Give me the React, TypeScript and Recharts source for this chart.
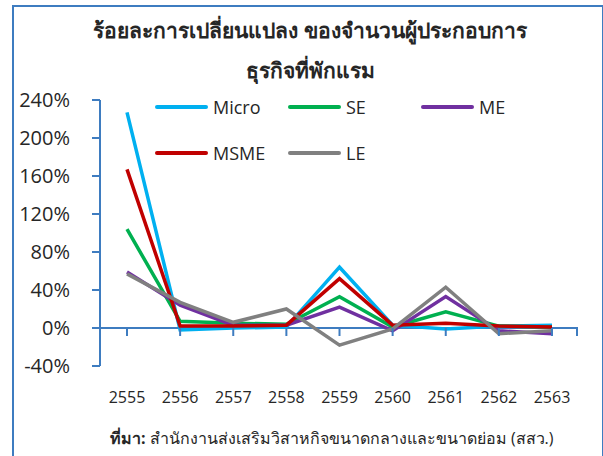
import { LineChart, Line, XAxis, YAxis, ReferenceLine } from "recharts";

const years = ["2555", "2556", "2557", "2558", "2559", "2560", "2561", "2562", "2563"];
const micro = [227, -2, 0, 1, 64, 3, -1, 2, 3];
const se = [104, 7, 5, 4, 33, 1, 17, 2, 1];
const me = [59, 24, 3, 3, 22, -3, 33, -3, -6];
const msme = [167, 2, 2, 3, 52, 3, 5, 2, 1];
const le = [57, 27, 6, 20, -18, -1, 43, -6, -3];
const yTicks = [-40, 0, 40, 80, 120, 160, 200, 240];

const series = [
  { key: "micro", name: "Micro", color: "#00B0F0", values: micro },
  { key: "se", name: "SE", color: "#00B050", values: se },
  { key: "me", name: "ME", color: "#7030A0", values: me },
  { key: "msme", name: "MSME", color: "#C00000", values: msme },
  { key: "le", name: "LE", color: "#808080", values: le },
];

const data = years.map((y, i) => {
  const row: any = { year: y };
  series.forEach((s) => (row[s.key] = s.values[i]));
  return row;
});

const AXIS = "#3E7CC0";
const TEXT = "#262626";
const FONT = "'Segoe UI', 'Open Sans', 'Noto Sans', sans-serif";

const W = 603;
const H = 456;
const X_AXIS_H = 60;
const M = { top: 100, right: 26, bottom: 30, left: 12 };
const Y_MIN = -40;
const Y_MAX = 240;
const PLOT_BOTTOM = H - M.bottom - X_AXIS_H;
const PLOT_H = PLOT_BOTTOM - M.top;
// pixel y of the 0% line, from the y domain
const ZERO_Y = M.top + (PLOT_H * Y_MAX) / (Y_MAX - Y_MIN);

function XTick({ x, payload }: any) {
  return (
    <g>
      <line x1={x} x2={x} y1={ZERO_Y} y2={ZERO_Y + 8} stroke={AXIS} strokeWidth={2} />
      <text x={x} y={PLOT_BOTTOM + 37} textAnchor="middle" fontSize={16} fill={TEXT} fontFamily={FONT}>
        {payload.value}
      </text>
    </g>
  );
}

// horizontal axis at 0%, with the closing tick at its right end
function ZeroAxis(props: any) {
  const { x1, x2, y1, y2 } = props;
  return (
    <g>
      <line x1={x1} x2={x2} y1={y1} y2={y2} stroke={AXIS} strokeWidth={2} />
      <line x1={x2} x2={x2} y1={y2 - 1} y2={y2 + 8} stroke={AXIS} strokeWidth={2} />
    </g>
  );
}

function LegendBox() {
  const cols = [155, 288, 421];
  return (
    <>
      {series.map((s, i) => {
        const left = cols[i % 3];
        const top = i < 3 ? 95 : 141;
        return (
          <div key={s.key} style={{ position: "absolute", left, top, display: "flex", alignItems: "center" }}>
            <div style={{ width: 53, height: 4, borderRadius: 2, background: s.color }} />
            <span style={{ marginLeft: 5, fontSize: 18, color: TEXT, fontFamily: FONT, lineHeight: "24px" }}>
              {s.name}
            </span>
          </div>
        );
      })}
    </>
  );
}

export default function App() {
  return (
    <div style={{ position: "absolute", left: 0, top: 0, width: W, height: H, background: "#fff", overflow: "hidden" }}>
      <div
        style={{
          position: "absolute",
          left: 12,
          top: 5,
          width: 588,
          height: 470,
          border: `2px solid ${AXIS}`,
        }}
      />
      <div
        style={{
          position: "absolute",
          left: 0,
          width: 620,
          top: 10,
          textAlign: "center",
          fontFamily: FONT,
          fontWeight: 700,
          fontSize: 21,
          lineHeight: "40px",
          color: TEXT,
        }}
      >
        ร้อยละการเปลี่ยนแปลง ของจำนวนผู้ประกอบการ
        <br />
        ธุรกิจที่พักแรม
      </div>
      <LineChart width={W} height={H} data={data} margin={M} style={{ position: "absolute", left: 0, top: 0 }}>
        <XAxis
          dataKey="year"
          padding={{ left: 27, right: 25 }}
          axisLine={false}
          tickLine={false}
          tick={<XTick />}
          interval={0}
          height={X_AXIS_H}
        />
        <YAxis
          domain={[Y_MIN, Y_MAX]}
          ticks={yTicks}
          interval={0}
          width={88}
          tickFormatter={(v) => `${v}%`}
          tick={{ fontSize: 20, fill: TEXT, fontFamily: FONT }}
          tickSize={8}
          tickMargin={22}
          axisLine={{ stroke: AXIS, strokeWidth: 2 }}
          tickLine={{ stroke: AXIS, strokeWidth: 2 }}
        />
        <ReferenceLine y={0} shape={<ZeroAxis />} />
        {series.map((s) => (
          <Line
            key={s.key}
            type="linear"
            dataKey={s.key}
            name={s.name}
            stroke={s.color}
            strokeWidth={3.5}
            dot={false}
            isAnimationActive={false}
          />
        ))}
      </LineChart>
      <LegendBox />
      <div
        style={{
          position: "absolute",
          left: 110,
          top: 426,
          fontFamily: FONT,
          fontSize: 16,
          color: TEXT,
          whiteSpace: "nowrap",
        }}
      >
        <b>ที่มา:</b> สำนักงานส่งเสริมวิสาหกิจขนาดกลางและขนาดย่อม (สสว.)
      </div>
    </div>
  );
}
